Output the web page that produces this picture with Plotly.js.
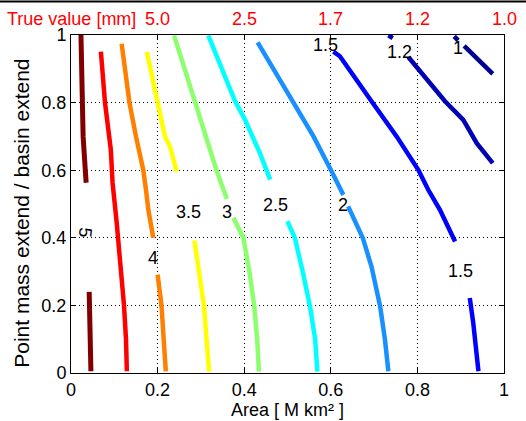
<!DOCTYPE html>
<html>
<head>
<meta charset="utf-8">
<script src="https://cdn.plot.ly/plotly-3.0.1.min.js"></script>
<style>
  html, body { margin: 0; padding: 0; background: #fff; }
  #chart { width: 526px; height: 421px; }
</style>
</head>
<body>
<div id="chart"></div>
<script>
// Contour levels of the true value [mm], with their line colours (jet-like)
const levels = [5, 4.5, 4, 3.5, 3, 2.5, 2, 1.5, 1.2, 1];
const levelColors = ['#800000', '#ff0000', '#ff8000', '#ffff00', '#8cff6e',
                     '#00ffff', '#1890ff', '#0000ff', '#0000b4', '#000090'];

// Contour paths per level (area, point-mass fraction); null splits a path
// where the inline label breaks the line.
const c5x   = [0.023, 0.026, 0.028, 0.033, 0.035, null, 0.042, 0.043, 0.045, 0.046];
const c5y   = [1.000, 0.850, 0.700, 0.600, 0.563, null, 0.240, 0.120, 0.100, 0.005];
const c45x  = [0.069, 0.0785, 0.092, 0.096, 0.1055, 0.109, 0.1224, 0.127, 0.129];
const c45y  = [0.951, 0.800, 0.660, 0.563, 0.445, 0.400, 0.200, 0.100, 0.005];
const c4x   = [0.117, 0.135, 0.150, 0.167, 0.173, 0.1786, 0.190, null, 0.200, 0.209, 0.214, 0.219];
const c4y   = [0.974, 0.800, 0.700, 0.600, 0.543, 0.483, 0.400, null, 0.291, 0.200, 0.100, 0.005];
const c35x  = [0.175, 0.2017, 0.217, 0.2286, 0.244, null, 0.285, 0.296, 0.307, 0.313, 0.319];
const c35y  = [0.950, 0.800, 0.700, 0.670, 0.596, null, 0.392, 0.300, 0.200, 0.100, 0.004];
const c3x   = [0.238, 0.262, 0.286, 0.312, 0.336, 0.360, null, 0.375, 0.398, 0.412, 0.423, 0.430, 0.434];
const c3y   = [0.999, 0.900, 0.800, 0.700, 0.600, 0.515, null, 0.459, 0.400, 0.300, 0.200, 0.100, 0.004];
const c25x  = [0.317, 0.379, 0.402, 0.436, 0.460, null, 0.4996, 0.517, 0.535, 0.552, 0.564, 0.569];
const c25y  = [0.999, 0.804, 0.749, 0.651, 0.572, null, 0.449, 0.400, 0.300, 0.197, 0.099, 0.004];
const c2x   = [0.431, 0.510, 0.560, 0.602, 0.629, null, 0.640, 0.674, 0.694, 0.714, 0.725, 0.733];
const c2y   = [0.978, 0.804, 0.700, 0.596, 0.527, null, 0.493, 0.399, 0.315, 0.197, 0.099, 0.005];
const c15x  = [0.606, 0.621, 0.694, 0.752, 0.802, 0.825, 0.852, 0.887, null, 0.921, 0.929, 0.941];
const c15y  = [0.951, 0.937, 0.804, 0.700, 0.601, 0.542, 0.483, 0.389, null, 0.222, 0.148, 0.005];
const c12x  = [0.733, 0.743, null, 0.779, 0.8637, 0.906, 0.937, 0.974];
const c12y  = [0.999, 0.991, null, 0.935, 0.804, 0.749, 0.680, 0.621];
const c1x   = [0.885, 0.894, null, 0.908, 0.974];
const c1y   = [0.996, 0.984, null, 0.968, 0.885];

const pathX = [c5x, c45x, c4x, c35x, c3x, c25x, c2x, c15x, c12x, c1x];
const pathY = [c5y, c45y, c4y, c35y, c3y, c25y, c2y, c15y, c12y, c1y];

// Inline contour labels: level value and anchor point
const labelLevels = [5, 4, 3.5, 3, 2.5, 2, 1.5, 1.5, 1.2, 1];
const labelX      = [0.0323, 0.1886, 0.2712, 0.3614, 0.473, 0.629, 0.588, 0.900, 0.7575, 0.894];
const labelY      = [0.416, 0.339, 0.476, 0.475, 0.498, 0.498, 0.971, 0.301, 0.951, 0.961];
const labelAngles = [95, 0, 0, 0, 0, 0, 0, 0, 0, 0];

// Top scale: true value at the area ticks
const areaTicks   = [0, 0.2, 0.4, 0.6, 0.8, 1.0];
const trueValueTickText = ['True value [mm]', '5.0', '2.5', '1.7', '1.2', '1.0'];

const FONT = 'Arial, "Liberation Sans", Helvetica, sans-serif';
const PLOT_W = 433, PLOT_H = 338;

const traces = levels.map((lv, i) => ({
  type: 'scatter',
  mode: 'lines',
  x: pathX[i],
  y: pathY[i],
  connectgaps: false,
  name: String(lv),
  line: { color: levelColors[i], width: i === 0 ? 5 : 4.5 },
  hoverinfo: 'skip',
  showlegend: false
}));

const annotations = labelLevels.map((lv, i) => ({
  x: labelX[i], y: labelY[i], xref: 'x', yref: 'y',
  text: String(lv), showarrow: false, textangle: labelAngles[i],
  font: { family: FONT, size: 18, color: '#000' }
}));

// red true-value labels above the frame, one per area tick
areaTicks.forEach((t, i) => {
  annotations.push({
    x: t, y: 1 + 16 / PLOT_H, xref: 'x', yref: 'paper',
    xanchor: 'center', yanchor: 'middle',
    text: trueValueTickText[i], showarrow: false,
    font: { family: FONT, size: 18, color: '#ff0000' }
  });
});

// vertical axis title
annotations.push({
  x: -49 / PLOT_W, y: 0.471, xref: 'paper', yref: 'paper',
  xanchor: 'center', yanchor: 'middle', textangle: -90,
  text: 'Point mass extend / basin extend', showarrow: false,
  font: { family: FONT, size: 21, color: '#000' }
});

const layout = {
  width: 526,
  height: 421,
  margin: { l: 71, r: 22, t: 35, b: 48, pad: 0 },
  paper_bgcolor: '#fff',
  plot_bgcolor: '#fff',
  font: { family: FONT, size: 18, color: '#000' },
  xaxis: {
    range: [0, 1], tickvals: areaTicks, ticks: 'inside', ticklen: 5,
    tickcolor: '#000', showline: true, linecolor: '#000', linewidth: 1,
    mirror: 'ticks', zeroline: false,
    showgrid: true, gridcolor: '#000', griddash: '1px,3px', gridwidth: 1,
    tickfont: { family: FONT, size: 18, color: '#000' },
    title: { text: 'Area [ M km² ]', standoff: 2, font: { family: FONT, size: 18, color: '#000' } },
    automargin: false
  },
  yaxis: {
    range: [0, 1], dtick: 0.2, ticks: 'inside', ticklen: 5,
    tickcolor: '#000', showline: true, linecolor: '#000', linewidth: 1,
    mirror: 'ticks', zeroline: false,
    showgrid: true, gridcolor: '#000', griddash: '1px,3px', gridwidth: 1,
    tickfont: { family: FONT, size: 18, color: '#000' },
    automargin: false
  },
  annotations: annotations,
  shapes: [{
    type: 'line', xref: 'paper', yref: 'paper',
    x0: -71 / PLOT_W, x1: 1 + 22 / PLOT_W,
    y0: 1 + 33.5 / PLOT_H, y1: 1 + 33.5 / PLOT_H,
    line: { color: '#000', width: 2 }
  }],
  showlegend: false
};

Plotly.newPlot('chart', traces, layout, { displayModeBar: false, staticPlot: true });
</script>
</body>
</html>
